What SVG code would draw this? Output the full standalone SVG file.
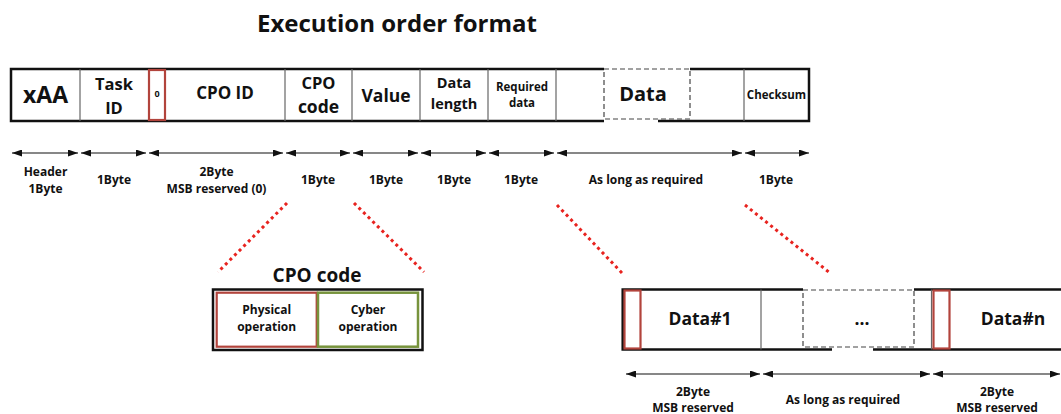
<svg xmlns="http://www.w3.org/2000/svg" width="1061" height="414" viewBox="0 0 1061 414">
  <defs>
    <marker id="tip" viewBox="0 0 10 7" refX="10" refY="3.5" markerWidth="10" markerHeight="7" markerUnits="userSpaceOnUse" orient="auto-start-reverse">
      <path d="M0,0 L10,3.5 L0,7 z" fill="#111"/>
    </marker>
  </defs>
  <style>
    text { font-family: "Open Sans", "Liberation Sans", sans-serif; font-weight: 700; fill: #111; text-anchor: middle; }
    .frame { fill: none; stroke: #111; stroke-width: 2.5; }
    .div { stroke: #666; stroke-width: 1.2; }
    .dash { fill: none; stroke: #444; stroke-width: 1.2; stroke-dasharray: 5 3; }
    .red { fill: none; stroke: #b2443c; stroke-width: 2.2; }
    .green { fill: none; stroke: #77933c; stroke-width: 2.5; }
    .span { stroke: #111; stroke-width: 1.2; marker-start: url(#tip); marker-end: url(#tip); }
    .zoom { stroke: #e8231f; stroke-width: 3; stroke-dasharray: 3 3.5; }
    .lbl { font-size: 12px; }
  </style>
  <rect width="1061" height="414" fill="#fff"/>

  <text id="title" x="397" y="32" font-size="24">Execution order format</text>

  <!-- top packet: outer frame with an open stretch where the variable data sits -->
  <g id="packet-frame">
    <path class="frame" d="M604,69 H11 V121 H604 M658,121 H809 V69 H690"/>
    <rect class="dash" x="604" y="69" width="86" height="50"/>
  </g>

  <g id="f-header"><text x="45.5" y="103" font-size="23">xAA</text></g>
  <g id="f-task"><line class="div" x1="80" y1="69" x2="80" y2="121"/><text x="114" y="90" font-size="16.5">Task</text><text x="114" y="114" font-size="16.5">ID</text></g>
  <g id="f-msb"><rect class="red" x="149" y="70" width="16" height="50"/><text x="157" y="97" font-size="9">0</text></g>
  <g id="f-cpoid"><text x="225" y="99" font-size="17">CPO ID</text></g>
  <g id="f-cpocode"><line class="div" x1="285" y1="69" x2="285" y2="121"/><text x="318.5" y="89" font-size="16.5">CPO</text><text x="318.5" y="113" font-size="17.5">code</text></g>
  <g id="f-value"><line class="div" x1="352" y1="69" x2="352" y2="121"/><text x="386" y="102" font-size="17.5">Value</text></g>
  <g id="f-length"><line class="div" x1="420" y1="69" x2="420" y2="121"/><text x="454" y="88" font-size="14.5">Data</text><text x="454" y="109" font-size="14.5">length</text></g>
  <g id="f-required"><line class="div" x1="488" y1="69" x2="488" y2="121"/><text x="522" y="91" font-size="11.5">Required</text><text x="522" y="107" font-size="11.5">data</text></g>
  <g id="f-data"><line class="div" x1="556" y1="69" x2="556" y2="121"/><text x="643" y="101" font-size="20">Data</text></g>
  <g id="f-checksum"><line class="div" x1="744" y1="69" x2="744" y2="121"/><text x="776.5" y="99" font-size="11.5">Checksum</text></g>

  <!-- CPO code breakdown -->
  <g id="cpo-code">
    <text x="317" y="282" font-size="19">CPO code</text>
    <rect class="frame" x="213" y="289.5" width="209.5" height="60.5"/>
    <rect class="red" x="216.7" y="292.7" width="100" height="54" stroke-width="2.5"/>
    <rect class="green" x="318" y="292.7" width="100" height="54"/>
  </g>
  <g id="op-physical"><text x="266.7" y="314" font-size="12">Physical</text><text x="266.7" y="331" font-size="12">operation</text></g>
  <g id="op-cyber"><text x="368" y="314" font-size="12">Cyber</text><text x="368" y="331" font-size="12">operation</text></g>

  <!-- data field breakdown -->
  <g id="data-frame">
    <path class="frame" d="M803,289.5 H622.7 V349.5 H832 M873,349.5 H1066 M914,289.5 H1066"/>
    <rect class="dash" x="803" y="290" width="111" height="57"/>
  </g>
  <g id="d-first"><rect class="red" x="624.5" y="290.5" width="16" height="58"/><text x="700" y="325" font-size="17.5">Data#1</text></g>
  <g id="d-middle"><line class="div" x1="761" y1="289.5" x2="761" y2="349.5"/><text x="862" y="325" font-size="17.5">...</text></g>
  <g id="d-last"><line class="div" x1="931.5" y1="289.5" x2="931.5" y2="349.5"/><rect class="red" x="933.5" y="290.5" width="16" height="58"/><text x="1013" y="325" font-size="17.5">Data#n</text></g>

  <!-- size spans and zoom guides -->
  <g id="connectors">
    <line class="span" x1="12" y1="153" x2="78" y2="153"/>
    <line class="span" x1="81" y1="153" x2="146" y2="153"/>
    <line class="span" x1="149" y1="153" x2="283" y2="153"/>
    <line class="span" x1="286" y1="153" x2="350" y2="153"/>
    <line class="span" x1="353" y1="153" x2="418" y2="153"/>
    <line class="span" x1="421" y1="153" x2="486" y2="153"/>
    <line class="span" x1="489" y1="153" x2="554" y2="153"/>
    <line class="span" x1="557" y1="153" x2="742" y2="153"/>
    <line class="span" x1="745" y1="153" x2="809" y2="153"/>

    <line class="span" x1="626" y1="374" x2="760" y2="374"/>
    <line class="span" x1="763" y1="374" x2="930" y2="374"/>
    <line class="span" x1="933" y1="374" x2="1060" y2="374"/>

    <line class="zoom" x1="287" y1="203" x2="218" y2="272"/>
    <line class="zoom" x1="354" y1="203" x2="424" y2="272"/>
    <line class="zoom" x1="557" y1="205" x2="622" y2="273"/>
    <line class="zoom" x1="745" y1="205" x2="830" y2="273"/>
  </g>

  <g id="span-labels">
    <text class="lbl" x="45.5" y="176">Header</text><text class="lbl" x="45.5" y="193">1Byte</text>
    <text class="lbl" x="114" y="184">1Byte</text>
    <text class="lbl" x="216.5" y="176">2Byte</text><text class="lbl" x="216.5" y="193">MSB reserved (0)</text>
    <text class="lbl" x="318" y="184">1Byte</text>
    <text class="lbl" x="386" y="184">1Byte</text>
    <text class="lbl" x="454" y="184">1Byte</text>
    <text class="lbl" x="521" y="184">1Byte</text>
    <text class="lbl" x="646" y="184">As long as required</text>
    <text class="lbl" x="776" y="184">1Byte</text>

    <text class="lbl" x="693" y="396">2Byte</text><text class="lbl" x="693" y="412">MSB reserved</text>
    <text class="lbl" x="843" y="404">As long as required</text>
    <text class="lbl" x="997" y="396">2Byte</text><text class="lbl" x="997" y="412">MSB reserved</text>
  </g>
</svg>
